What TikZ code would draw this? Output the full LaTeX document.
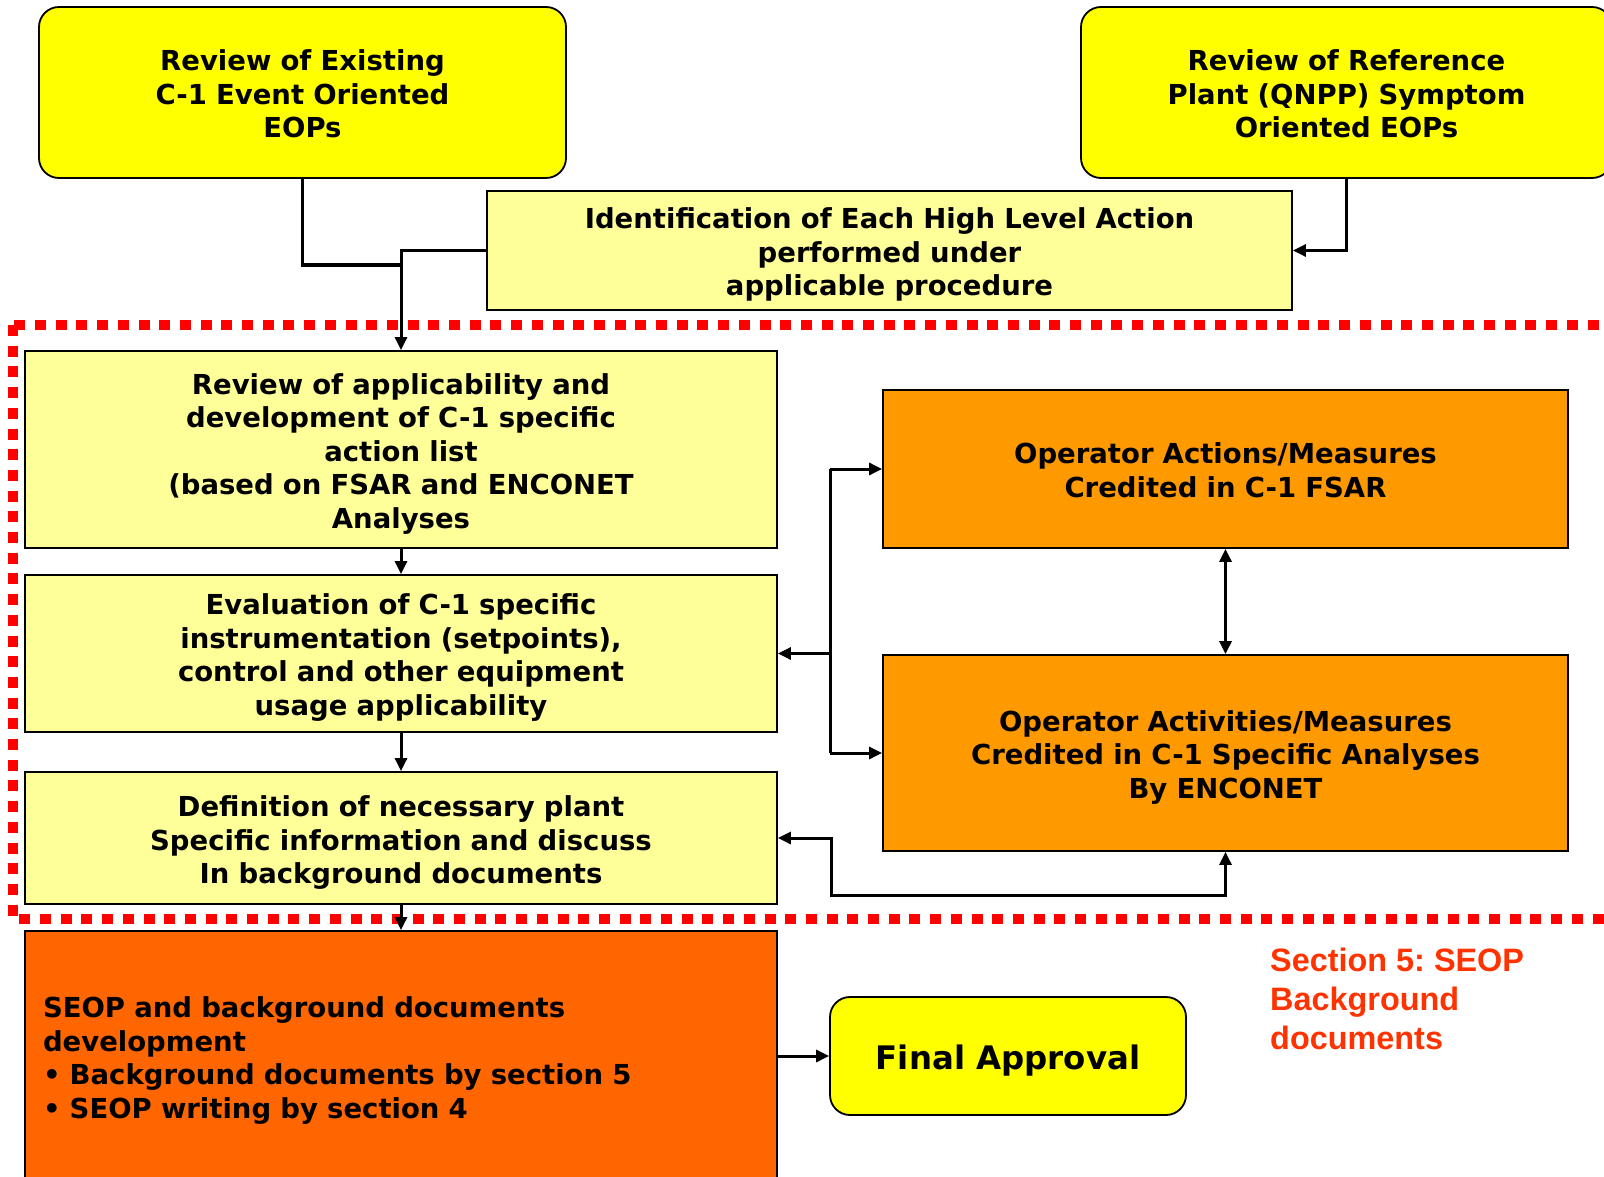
\documentclass[tikz,border=0pt]{standalone}
\usepackage{fontspec}
\setmainfont{DejaVu Sans}
\newfontfamily\labelfont{Liberation Sans}
\usetikzlibrary{arrows.meta}

\definecolor{boxyellow}{HTML}{FFFF00}
\definecolor{paleyellow}{HTML}{FFFF99}
\definecolor{amber}{HTML}{FF9900}
\definecolor{deeporange}{HTML}{FF6600}
\definecolor{sectionred}{HTML}{FF3300}
\definecolor{framered}{HTML}{FF0000}

\tikzset{
  >={Triangle[length=13pt,width=12pt]},
  every node/.style={font=\fontsize{27.5}{33.5}\selectfont\bfseries},
  boxbase/.style={draw=black, line width=1.8pt, inner sep=0pt, align=center},
  % a strut on the first line moves the text block slightly downwards
  firstline/.style={execute at begin node={\rule{0pt}{#1}}},
  firstline/.default=29pt,
  sourcebox/.style={boxbase, fill=boxyellow, rounded corners=20pt},
  stepbox/.style={boxbase, fill=paleyellow},
  creditbox/.style={boxbase, fill=amber},
  outbox/.style={boxbase, fill=deeporange},
  conn/.style={line width=3pt},
  link/.style={conn, ->},
}

\begin{document}
\begin{tikzpicture}[x=1pt, y=-1pt]
  \clip (0,0) rectangle (1604,1177);
  \fill[white] (0,0) rectangle (1604,1177);

  % dotted frame around the plant specific review steps
  \draw[framered, line width=10pt, dash pattern=on 11pt off 9.7pt]
    (13,325) rectangle (1609,919);

  % inputs
  \node[sourcebox, firstline=24pt, text width=500pt, minimum width=527pt, minimum height=171pt] (exist) at (302.5,92.5)
    {Review of Existing\\C-1 Event Oriented\\EOPs};
  \node[sourcebox, firstline=24pt, text width=500pt, minimum width=531pt, minimum height=171pt] (ref) at (1346.5,92.5)
    {Review of Reference\\Plant (QNPP) Symptom\\Oriented EOPs};
  \node[stepbox, firstline, text width=780pt, minimum width=805pt, minimum height=119pt] (ident) at (889.5,250.5)
    {Identification of Each High Level Action\\performed under\\applicable procedure};

  % review steps
  \node[stepbox, firstline, text width=716pt, minimum width=752pt, minimum height=197pt] (A) at (401,449.5)
    {Review of applicability and\\development of C-1 specific\\action list\\(based on FSAR and ENCONET\\Analyses};
  \node[stepbox, firstline, text width=716pt, minimum width=752pt, minimum height=157pt] (B) at (401,653.5)
    {Evaluation of C-1 specific\\instrumentation (setpoints),\\control and other equipment\\usage applicability};
  \node[stepbox, firstline=30pt, text width=716pt, minimum width=752pt, minimum height=132pt] (E) at (401,838)
    {Definition of necessary plant\\Specific information and discuss\\In background documents};

  % credited operator actions
  \node[creditbox, firstline=23pt, text width=650pt, minimum width=685pt, minimum height=158pt] (C) at (1225.5,469)
    {Operator Actions/Measures\\Credited in C-1 FSAR};
  \node[creditbox, firstline, text width=650pt, minimum width=685pt, minimum height=196pt] (D) at (1225.5,753)
    {Operator Activities/Measures\\Credited in C-1 Specific Analyses\\By ENCONET};

  % outputs
  \node[outbox, minimum width=752pt, minimum height=259pt, text width=716pt, align=left]
    (F) at (401,1060.5)
    {SEOP and background documents\\development\\%
     \textbullet{} Background documents by section 5\\%
     \textbullet{} SEOP writing by section 4};
  \node[sourcebox, firstline=33pt, minimum width=356pt, minimum height=118pt,
        font=\fontsize{32.4}{39}\selectfont\bfseries] (final) at (1008,1056)
    {Final Approval};

  \node[anchor=north west, inner sep=0pt, align=left, text=sectionred,
        font=\labelfont\fontsize{32.4}{39}\selectfont\bfseries\frenchspacing] (sec5) at (1270,948)
    {Section 5: SEOP\\Background\\documents};

  % connectors
  \coordinate (join) at (401,265);
  \draw[conn] (exist.south) |- (join);
  \draw[link] (ident.west) -| (A.north);
  \draw[link] (ref.south) |- (ident.east);
  \draw[link] (A.south) -- (B.north);
  \draw[link] (B.south) -- (E.north);
  \draw[link] (E.south) -- (F.north);

  \path (C.west) ++(-52,0) coordinate (bt);
  \coordinate (bb) at (bt |- D.west);
  \draw[conn] (bt) -- (bb);
  \draw[link] (bt) -- (C.west);
  \draw[link] (bb) -- (D.west);
  \draw[link] (bt |- B.east) -- (B.east);
  \draw[conn, <->] (C.south) -- (D.north);
  \coordinate (loop) at (831,895);
  \draw[conn, <->] (D.south) |- (loop) |- (E.east);

  \draw[link] (F.east |- final.west) -- (final.west);
\end{tikzpicture}
\end{document}
